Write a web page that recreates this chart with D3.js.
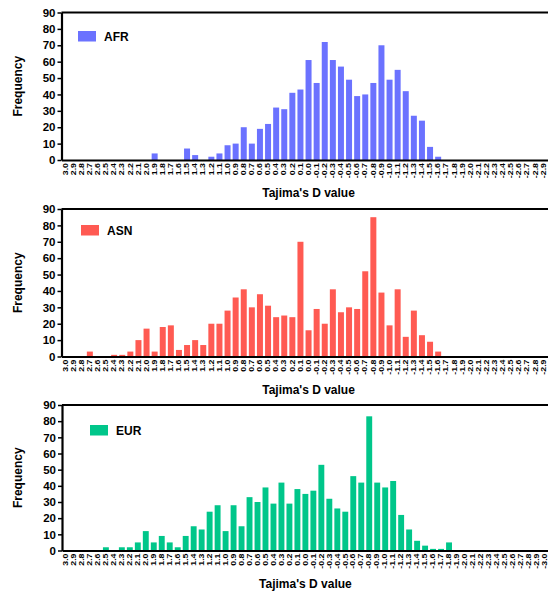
<!DOCTYPE html>
<html lang="en">
<head>
<meta charset="utf-8">
<title>Tajima's D</title>
<script src="https://cdn.jsdelivr.net/npm/d3@7/dist/d3.min.js"></script>
<style>
  body { margin: 0; background: #fff; }
  svg { font-family: "Liberation Sans", Arial, sans-serif; font-weight: bold; }
  .axis path, .axis line { stroke: #000; }
</style>
</head>
<body>
<script>
var w = 548, h = 593;

// bins of Tajima's D, from 3.0 down to -3.0
var dLabels = ["3.0","2.9","2.8","2.7","2.6","2.5","2.4","2.3","2.2","2.1",
  "2.0","1.9","1.8","1.7","1.6","1.5","1.4","1.3","1.2","1.1",
  "1.0","0.9","0.8","0.7","0.6","0.5","0.4","0.3","0.2","0.1",
  "0.0","-0.1","-0.2","-0.3","-0.4","-0.5","-0.6","-0.7","-0.8","-0.9",
  "-1.0","-1.1","-1.2","-1.3","-1.4","-1.5","-1.6","-1.7","-1.8","-1.9",
  "-2.0","-2.1","-2.2","-2.3","-2.4","-2.5","-2.6","-2.7","-2.8","-2.9","-3.0"];

var yTicks = [0, 10, 20, 30, 40, 50, 60, 70, 80, 90];

var afr = [0,0,0,0,0,0,0,0,0,0, 0,4,0,0,0,7,3,0,2,4,
  9,10,20,10,19,22,32,31,41,43, 61,47,72,61,57,49,39,40,47,70,
  49,55,42,27,24,8,2,0,0,0, 0,0,0,0,0,0,0,0,0,0,0];
var asn = [0,0,0,3,0,0,1,1,3,10, 17,3,18,19,4,7,10,7,20,20,
  28,36,41,30,38,31,24,25,24,70, 16,29,20,41,27,30,29,52,85,39,
  19,41,12,28,13,9,3,0,0,0, 0,0,0,0,0,0,0,0,0,0,0];
var eur = [0,0,0,0,0,2,0,2,2,5, 12,5,9,5,2,9,15,13,24,28,
  12,28,15,33,30,39,29,42,29,38, 35,37,53,32,26,24,46,42,83,42,
  39,43,22,13,6,3,1,1,5,0, 0,0,0,0,0,0,0,0,0,0,0];

var panels = [
  {name: "AFR", values: afr, color: "#6b72ff", top: 12.5, bottom: 160, x0: 61.5, step: 8.1, legX: 78, legY: 31, titleY: 197},
  {name: "ASN", values: asn, color: "#ff5a52", top: 209, bottom: 356.5, x0: 61.5, step: 8.1, legX: 81, legY: 225, titleY: 394},
  {name: "EUR", values: eur, color: "#00c68a", top: 405, bottom: 550.5, x0: 62, step: 7.98, legX: 90, legY: 425, titleY: 588}
];

var svg = d3.select("body").append("svg")
  .attr("width", w)
  .attr("height", h);

panels.forEach(function (p) {
  var g = svg.append("g");
  var x1 = p.x0 + p.step * dLabels.length;

  var xScale = d3.scaleBand()
    .domain(dLabels)
    .range([p.x0, x1])
    .paddingInner(0.26)
    .paddingOuter(0.13);

  var yScale = d3.scaleLinear()
    .domain([0, 90])
    .range([p.bottom, p.top]);

  // bars
  g.selectAll("rect.bar")
    .data(p.values)
    .enter().append("rect")
    .attr("class", "bar")
    .attr("x", function (d, i) { return xScale(dLabels[i]); })
    .attr("width", xScale.bandwidth())
    .attr("y", function (d) { return yScale(d); })
    .attr("height", function (d) { return yScale(0) - yScale(d); })
    .attr("fill", p.color);

  // top frame line
  g.append("line")
    .attr("x1", p.x0).attr("x2", x1)
    .attr("y1", p.top).attr("y2", p.top)
    .attr("stroke", "#000").attr("stroke-width", 2);

  // x axis, labels rotated and a bit squeezed like the original
  var xAxis = g.append("g")
    .attr("class", "axis")
    .attr("transform", "translate(0," + p.bottom + ")")
    .call(d3.axisBottom(xScale).tickSize(0).tickSizeOuter(0));
  xAxis.select(".domain").attr("stroke-width", 2.2);
  xAxis.selectAll("text")
    .attr("font-size", "8.8px")
    .attr("font-weight", "bold")
    .attr("fill", "#000")
    .attr("text-anchor", "end")
    .attr("x", -3)
    .attr("y", 0)
    .attr("dy", "0.35em")
    .attr("transform", "rotate(-90) scale(1,0.72)");
  // the original figure is cropped at the right edge
  xAxis.selectAll(".tick")
    .filter(function (d) { return xScale(d) + xScale.bandwidth() / 2 > w - 3; })
    .remove();

  // y axis
  var yAxis = g.append("g")
    .attr("class", "axis")
    .attr("transform", "translate(" + p.x0 + ",0)")
    .call(d3.axisLeft(yScale).tickValues(yTicks).tickSize(4).tickSizeOuter(0).tickPadding(2));
  yAxis.select(".domain").attr("stroke-width", 2.2);
  yAxis.selectAll("line").attr("stroke-width", 1.5);
  yAxis.selectAll("text")
    .attr("font-size", "11.5px")
    .attr("font-weight", "bold")
    .attr("fill", "#000");

  // axis titles
  g.append("text")
    .text("Tajima's D value")
    .attr("x", (p.x0 + x1) / 2)
    .attr("y", p.titleY)
    .attr("text-anchor", "middle")
    .attr("font-size", "12px");

  g.append("text")
    .text("Frequency")
    .attr("transform", "rotate(-90)")
    .attr("x", -(p.top + p.bottom) / 2)
    .attr("y", 18)
    .attr("dy", "0.35em")
    .attr("text-anchor", "middle")
    .attr("font-size", "12px");

  // legend
  g.append("rect")
    .attr("x", p.legX).attr("y", p.legY)
    .attr("width", 18).attr("height", 10.5)
    .attr("fill", p.color);
  g.append("text")
    .text(p.name)
    .attr("x", p.legX + 26)
    .attr("y", p.legY + 5.3)
    .attr("dy", "0.35em")
    .attr("font-size", "12px");
});
</script>
</body>
</html>
